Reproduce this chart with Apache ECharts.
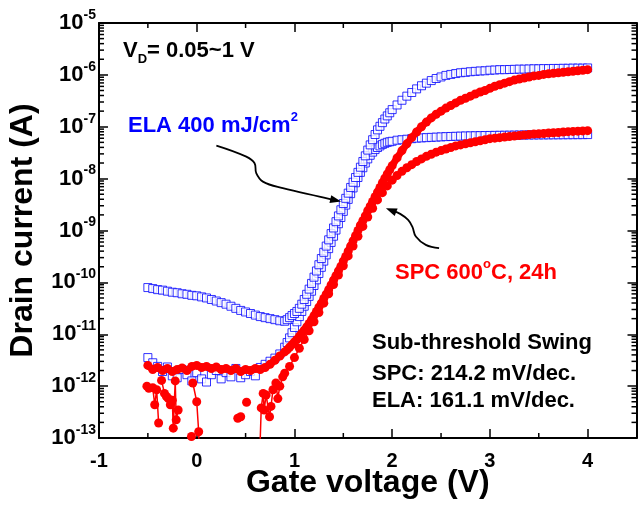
<!DOCTYPE html>
<html><head><meta charset="utf-8">
<script src="https://cdn.jsdelivr.net/npm/echarts@6/dist/echarts.min.js"></script>
<style>html,body{margin:0;padding:0;background:#fff}#c{width:638px;height:505px}</style>
</head><body><div id="c"></div>
<script>
// ---------- data ----------
// Gate voltage points (V) shared by the ELA curves and SPC (VD = 1 V)
const gateV = [-0.5,-0.45,-0.4,-0.35,-0.3,-0.25,-0.2,-0.15,-0.1,-0.05,
  0,0.05,0.1,0.15,0.2,0.25,0.3,0.35,0.4,0.45,
  0.5,0.55,0.6,0.65,0.7,0.75,0.8,0.85,
  0.9,0.925,0.95,0.975,
  1,1.025,1.05,1.075,1.1,1.125,1.15,1.175,
  1.2,1.225,1.25,1.275,1.3,1.325,1.35,1.375,
  1.4,1.425,1.45,1.475,1.5,1.525,1.55,1.575,
  1.6,1.625,1.65,1.675,1.7,1.725,1.75,1.775,
  1.8,1.825,1.85,1.875,1.9,1.925,1.95,1.975,
  2,
  2.05,2.1,2.15,2.2,2.25,2.3,2.35,2.4,2.45,
  2.5,2.55,2.6,2.65,2.7,2.75,2.8,2.85,2.9,2.95,
  3,3.05,3.1,3.15,3.2,3.25,3.3,3.35,3.4,3.45,
  3.5,3.55,3.6,3.65,3.7,3.75,3.8,3.85,3.9,3.95,4];

// ELA 400 mJ/cm2, VD = 1 V (A)
const elaHigh = [7.94e-11,7.59e-11,7.24e-11,7.08e-11,6.76e-11,6.46e-11,6.31e-11,6.03e-11,5.89e-11,5.62e-11,
  5.50e-11,5.25e-11,5.01e-11,4.68e-11,4.37e-11,4.07e-11,3.80e-11,3.47e-11,3.16e-11,2.88e-11,
  2.69e-11,2.51e-11,2.34e-11,2.19e-11,2.09e-11,2.00e-11,1.91e-11,1.82e-11,
  1.78e-11,1.91e-11,2.09e-11,2.29e-11,
  2.51e-11,2.75e-11,3.16e-11,3.80e-11,4.68e-11,5.89e-11,7.41e-11,9.55e-11,
  1.26e-10,1.66e-10,2.19e-10,2.88e-10,3.80e-10,5.01e-10,6.61e-10,8.71e-10,
  1.12e-9,1.48e-9,1.91e-9,2.51e-9,3.31e-9,4.17e-9,5.25e-9,6.76e-9,
  8.51e-9,1.05e-8,1.32e-8,1.66e-8,2.14e-8,2.75e-8,3.55e-8,4.47e-8,
  5.62e-8,7.08e-8,8.71e-8,1.02e-7,1.20e-7,1.41e-7,1.62e-7,1.86e-7,
  2.14e-7,
  2.63e-7,3.24e-7,3.89e-7,4.57e-7,5.37e-7,6.17e-7,6.92e-7,7.76e-7,8.51e-7,
  9.12e-7,9.77e-7,1.02e-6,1.06e-6,1.10e-6,1.12e-6,1.15e-6,1.17e-6,1.19e-6,1.20e-6,
  1.23e-6,1.24e-6,1.26e-6,1.26e-6,1.27e-6,1.28e-6,1.29e-6,1.29e-6,1.30e-6,1.31e-6,
  1.31e-6,1.32e-6,1.32e-6,1.33e-6,1.33e-6,1.34e-6,1.34e-6,1.35e-6,1.35e-6,1.35e-6,1.36e-6];

// ELA 400 mJ/cm2, VD = 0.05 V (A)
const elaLow = [3.55e-12,2.82e-12,2.40e-12,1.91e-12,2.34e-12,1.58e-12,1.45e-12,2.09e-12,1.66e-12,1.26e-12,
  1.82e-12,1.38e-12,1.20e-12,1.66e-12,2.00e-12,1.38e-12,1.82e-12,1.51e-12,2.19e-12,1.45e-12,
  1.66e-12,1.91e-12,1.58e-12,2.29e-12,2.63e-12,3.02e-12,3.47e-12,4.17e-12,
  5.62e-12,6.92e-12,8.51e-12,1.07e-11,
  1.35e-11,1.74e-11,2.19e-11,2.75e-11,3.47e-11,4.27e-11,5.37e-11,6.76e-11,
  8.71e-11,1.12e-10,1.48e-10,1.95e-10,2.57e-10,3.39e-10,4.47e-10,5.89e-10,
  7.76e-10,1.02e-9,1.35e-9,1.78e-9,2.34e-9,3.09e-9,3.98e-9,5.13e-9,
  6.61e-9,8.32e-9,1.05e-8,1.32e-8,1.62e-8,2.00e-8,2.40e-8,2.82e-8,
  3.24e-8,3.63e-8,3.98e-8,4.27e-8,4.57e-8,4.79e-8,5.01e-8,5.13e-8,
  5.25e-8,
  5.50e-8,5.62e-8,5.75e-8,5.89e-8,6.03e-8,6.10e-8,6.17e-8,6.24e-8,6.31e-8,
  6.38e-8,6.45e-8,6.50e-8,6.55e-8,6.60e-8,6.65e-8,6.68e-8,6.71e-8,6.74e-8,6.77e-8,
  6.80e-8,6.82e-8,6.84e-8,6.86e-8,6.88e-8,6.90e-8,6.92e-8,6.93e-8,6.94e-8,6.95e-8,
  6.96e-8,6.97e-8,6.98e-8,6.99e-8,7.00e-8,7.01e-8,7.02e-8,7.03e-8,7.04e-8,7.05e-8,7.06e-8];

// SPC 600 C 24h, VD = 1 V (A)
const spcHigh = [2.51e-12,2.09e-12,2.29e-12,2.00e-12,2.19e-12,1.91e-12,2.09e-12,2.24e-12,2.00e-12,2.40e-12,
  2.51e-12,2.29e-12,2.40e-12,2.19e-12,2.34e-12,2.09e-12,2.19e-12,2.00e-12,2.19e-12,1.91e-12,
  2.09e-12,2.00e-12,2.19e-12,2.09e-12,2.29e-12,2.63e-12,3.16e-12,3.80e-12,
  4.57e-12,5.01e-12,5.62e-12,6.31e-12,
  7.08e-12,7.94e-12,9.12e-12,1.05e-11,1.20e-11,1.38e-11,1.62e-11,1.91e-11,
  2.29e-11,2.75e-11,3.31e-11,3.98e-11,4.90e-11,5.89e-11,7.24e-11,8.91e-11,
  1.10e-10,1.35e-10,1.66e-10,2.04e-10,2.57e-10,3.16e-10,3.98e-10,5.01e-10,
  6.31e-10,7.94e-10,1.00e-9,1.26e-9,1.55e-9,1.91e-9,2.40e-9,2.95e-9,
  3.63e-9,4.47e-9,5.50e-9,6.76e-9,8.32e-9,1.02e-8,1.23e-8,1.48e-8,
  1.78e-8,
  2.51e-8,3.47e-8,4.68e-8,6.17e-8,7.94e-8,1.00e-7,1.23e-7,1.48e-7,1.74e-7,
  2.00e-7,2.29e-7,2.57e-7,2.88e-7,3.24e-7,3.55e-7,3.89e-7,4.27e-7,4.68e-7,5.01e-7,
  5.50e-7,6.03e-7,6.46e-7,6.92e-7,7.41e-7,7.94e-7,8.32e-7,8.71e-7,9.12e-7,9.55e-7,
  9.77e-7,1.02e-6,1.05e-6,1.07e-6,1.10e-6,1.12e-6,1.15e-6,1.17e-6,1.20e-6,1.23e-6,1.26e-6];

// SPC 600 C 24h, VD = 0.05 V: own (noisy) voltage points; null = not plotted
const spcLowV = [-0.51,-0.49,-0.45,-0.43,-0.41,-0.39,-0.37,-0.36,-0.33,-0.31,
  -0.29,-0.27,-0.25,-0.24,-0.22,-0.21,-0.19,-0.17,-0.054,-0.045,
  -0.04,0,0.02,0.03,0.05,0.42,0.45,0.47,0.51,0.53,
  0.64,0.66,0.68,0.69,0.71,0.745,0.76,0.78,0.81,0.83,
  0.85,0.88,0.9,0.95,
  1,1.05,1.1,1.15,1.2,1.25,1.3,1.35,1.4,1.45,
  1.5,1.55,1.6,1.65,1.7,1.75,1.8,1.85,1.9,1.95,
  2,2.05,2.1,2.15,2.2,2.25,2.3,2.35,2.4,2.45,
  2.5,2.55,2.6,2.65,2.7,2.75,2.8,2.85,2.9,2.95,
  3,3.05,3.1,3.15,3.2,3.25,3.3,3.35,3.4,3.45,
  3.5,3.55,3.6,3.65,3.7,3.75,3.8,3.85,3.9,3.95,4];
const spcLowI = [1.00e-12,9.12e-13,9.33e-13,4.37e-13,8.51e-13,1.95e-13,null,1.29e-12,7.24e-13,6.31e-13,
  5.75e-13,4.37e-13,5.37e-13,1.55e-13,1.26e-12,2.24e-13,3.47e-13,null,1.07e-13,null,
  1.15e-12,5.01e-13,1.32e-13,3.16e-14,null,2.40e-13,2.57e-13,null,4.90e-13,null,
  2.51e-14,3.80e-13,7.24e-13,3.47e-13,6.76e-13,2.57e-13,4.07e-13,8.51e-13,1.15e-12,5.75e-13,
  1.00e-12,1.51e-12,1.78e-12,2.40e-12,
  3.55e-12,5.37e-12,7.94e-12,1.17e-11,1.74e-11,2.63e-11,3.98e-11,6.03e-11,9.12e-11,1.38e-10,
  2.09e-10,3.24e-10,5.01e-10,7.76e-10,1.20e-9,1.82e-9,2.69e-9,3.89e-9,5.37e-9,7.24e-9,
  9.33e-9,1.15e-8,1.38e-8,1.62e-8,1.86e-8,2.14e-8,2.40e-8,2.69e-8,2.95e-8,3.24e-8,
  3.47e-8,3.72e-8,3.98e-8,4.27e-8,4.47e-8,4.68e-8,4.90e-8,5.13e-8,5.37e-8,5.62e-8,
  5.89e-8,6.03e-8,6.17e-8,6.31e-8,6.46e-8,6.61e-8,6.76e-8,6.92e-8,7.08e-8,7.24e-8,
  7.33e-8,7.41e-8,7.59e-8,7.67e-8,7.76e-8,7.94e-8,8.04e-8,8.13e-8,8.22e-8,8.32e-8,8.41e-8];

// Axis ranges / ticks
const xRange = [-1, 4.5];
const yRange = [1e-13, 1e-5];
const xMinorTicks = [-0.5, 0.5, 1.5, 2.5, 3.5];
const yMinorMultipliers = [2,3,4,5,6,7,8,9];
const yDecades = [-13,-12,-11,-10,-9,-8,-7,-6];

// Annotation arrows (data coords: V, A)
const arrowELA = [[0.201,4.33e-8],[0.507,2.65e-8],[0.592,1.98e-8],[0.609,1.27e-8],[0.677,8.75e-9],[0.881,6.53e-9],[1.255,4.50e-9],[1.477,3.61e-9]];
const arrowSPC = [[2.480,4.56e-10],[2.344,5.28e-10],[2.242,7.64e-10],[2.207,1.17e-9],[2.163,1.60e-9],[2.082,2.09e-9],[1.936,2.69e-9]];

// ---------- chart ----------
const FONT = '"Liberation Sans", Arial, Helvetica, sans-serif';
const pairs = (xs, ys) => xs.map((x, i) => [x, ys[i] == null ? '-' : ys[i]]);
const minorData = [];
xMinorTicks.forEach(v => minorData.push([v, yRange[0], 0]));
yDecades.forEach(n => yMinorMultipliers.forEach(k => minorData.push([xRange[0], k * Math.pow(10, n), 1])));

const chart = echarts.init(document.getElementById('c'), null, {renderer: 'canvas'});
const axisLineStyle = {color: '#000', width: 2};
const tickStyle = {show: true, inside: true, length: 9, lineStyle: {color: '#000', width: 1.5}};

chart.setOption({
  animation: false,
  backgroundColor: '#fff',
  grid: {left: 99, right: 1.5, top: 23, bottom: 67, containLabel: false, outerBoundsMode: 'none'},
  xAxis: [{
    type: 'value', position: 'bottom', min: xRange[0], max: xRange[1], interval: 1,
    axisLine: {show: true, onZero: false, lineStyle: axisLineStyle},
    axisTick: tickStyle, splitLine: {show: false},
    axisLabel: {show: true, showMaxLabel: false, margin: 13, color: '#000', fontSize: 20, fontWeight: 'bold', fontFamily: FONT},
    name: 'Gate voltage (V)', nameLocation: 'middle', nameGap: 29, nameMoveOverlap: false,
    nameTextStyle: {color: '#000', fontSize: 32, fontWeight: 'bold', fontFamily: FONT}
  }, {
    type: 'value', position: 'top', min: xRange[0], max: xRange[1], interval: 1,
    axisLine: {show: true, onZero: false, lineStyle: axisLineStyle},
    axisTick: tickStyle, axisLabel: {show: false}, splitLine: {show: false}
  }],
  yAxis: [{
    type: 'log', logBase: 10, position: 'left', min: yRange[0], max: yRange[1], interval: 1,
    axisLine: {show: true, onZero: false, lineStyle: axisLineStyle},
    axisTick: tickStyle, splitLine: {show: false}, minorTick: {show: false},
    axisLabel: {
      show: true, margin: 3,
      formatter: v => '{b|10}{s|' + Math.round(Math.log10(v)) + '}',
      rich: {
        b: {fontSize: 22, fontWeight: 'bold', fontFamily: FONT, color: '#000', lineHeight: 30},
        s: {fontSize: 14, fontWeight: 'bold', fontFamily: FONT, color: '#000', lineHeight: 17, verticalAlign: 'top'}
      }
    },
    name: 'Drain current (A)', nameLocation: 'middle', nameGap: 60, nameMoveOverlap: false,
    nameTextStyle: {color: '#000', fontSize: 32, fontWeight: 'bold', fontFamily: FONT}
  }, {
    type: 'log', logBase: 10, position: 'right', min: yRange[0], max: yRange[1], interval: 1,
    axisLine: {show: true, onZero: false, lineStyle: axisLineStyle},
    axisTick: tickStyle, axisLabel: {show: false}, splitLine: {show: false}
  }],
  series: [{
    name: 'SPC, VD = 0.05 V', type: 'line', data: pairs(spcLowV, spcLowI),
    symbol: 'circle', symbolSize: 9, showAllSymbol: true, connectNulls: false, clip: true,
    lineStyle: {color: '#ff0000', width: 1.5}, itemStyle: {color: '#ff0000'}
  }, {
    name: 'SPC, VD = 1 V', type: 'line', data: pairs(gateV, spcHigh),
    symbol: 'circle', symbolSize: 9, showAllSymbol: true, clip: true,
    lineStyle: {color: '#ff0000', width: 7}, itemStyle: {color: '#ff0000'}
  }, {
    name: 'ELA, VD = 0.05 V', type: 'scatter', data: pairs(gateV, elaLow),
    symbol: 'rect', symbolSize: 8, clip: true,
    itemStyle: {color: '#ffffff', borderColor: '#0000ff', borderWidth: 1}
  }, {
    name: 'ELA, VD = 1 V', type: 'scatter', data: pairs(gateV, elaHigh),
    symbol: 'rect', symbolSize: 8, clip: true,
    itemStyle: {color: '#ffffff', borderColor: '#0000ff', borderWidth: 1}
  }, {
    name: 'minor ticks', type: 'custom', data: minorData, silent: true, clip: false, z: 10,
    encode: {x: 0, y: 1},
    renderItem: (params, api) => {
      const st = {stroke: '#000', lineWidth: 1.5};
      if (api.value(2) === 0) {
        const b = api.coord([api.value(0), yRange[0]]);
        const t = api.coord([api.value(0), yRange[1]]);
        return {type: 'group', children: [
          {type: 'line', shape: {x1: b[0], y1: b[1], x2: b[0], y2: b[1] - 5}, style: st},
          {type: 'line', shape: {x1: t[0], y1: t[1], x2: t[0], y2: t[1] + 5}, style: st}]};
      }
      const l = api.coord([xRange[0], api.value(1)]);
      const r = api.coord([xRange[1], api.value(1)]);
      return {type: 'group', children: [
        {type: 'line', shape: {x1: l[0], y1: l[1], x2: l[0] + 5, y2: l[1]}, style: st},
        {type: 'line', shape: {x1: r[0], y1: r[1], x2: r[0] - 5, y2: r[1]}, style: st}]};
    }
  }]
});

// annotations
const toPx = p => chart.convertToPixel({xAxisIndex: 0, yAxisIndex: 0}, p);
function arrow(id, path) {
  const pts = path.map(toPx);
  const tip = pts[pts.length - 1], prev = pts[pts.length - 2];
  let dx = tip[0] - prev[0], dy = tip[1] - prev[1];
  const len = Math.hypot(dx, dy); dx /= len; dy /= len;
  const bx = tip[0] - dx * 11, by = tip[1] - dy * 11;
  const head = [tip, [bx - dy * 4, by + dx * 4], [bx + dy * 4, by - dx * 4]];
  const bodyPts = pts.slice(0, -1).concat([[tip[0] - dx * 8, tip[1] - dy * 8]]);
  return [
    {type: 'polyline', id: id + 'b', shape: {points: bodyPts, smooth: 0.4}, style: {stroke: '#000', lineWidth: 1.8, fill: null}, z: 20},
    {type: 'polygon', id: id + 'h', shape: {points: head}, style: {fill: '#000'}, z: 20}
  ];
}
const txt = (id, x, y, text, rich) => ({type: 'text', id, x, y, z: 30,
  style: {text, rich, align: 'left', verticalAlign: 'middle'}});
const R = (size, color, lh, va) => {
  const o = {fontSize: size, fontWeight: 'bold', fontFamily: FONT, fill: color, lineHeight: lh};
  if (va) o.verticalAlign = va;
  return o;
};
chart.setOption({
  graphic: [
    ...arrow('a1', arrowELA),
    ...arrow('a2', arrowSPC),
    txt('t1', 123, 51, '{a|V}{d|D}{a|= 0.05~1 V}', {a: R(22, '#000', 30), d: R(13, '#000', 5, 'bottom')}),
    txt('t2', 128, 126, '{a|ELA 400 mJ/cm}{s|2}', {a: R(22, '#0000ff', 30), s: R(13, '#0000ff', 10, 'top')}),
    txt('t3', 395, 273, '{a|SPC 600}{s|o}{a|C, 24h}', {a: R(22, '#ff0000', 30), s: R(13, '#ff0000', 18, 'top')}),
    txt('t4', 372, 343, '{a|Sub-threshold Swing}', {a: R(22, '#000', 30)}),
    txt('t5', 372, 374, '{a|SPC: 214.2 mV/dec.}', {a: R(22, '#000', 30)}),
    txt('t6', 372, 401, '{a|ELA: 161.1 mV/dec.}', {a: R(22, '#000', 30)})
  ]
});
</script>
</body></html>
